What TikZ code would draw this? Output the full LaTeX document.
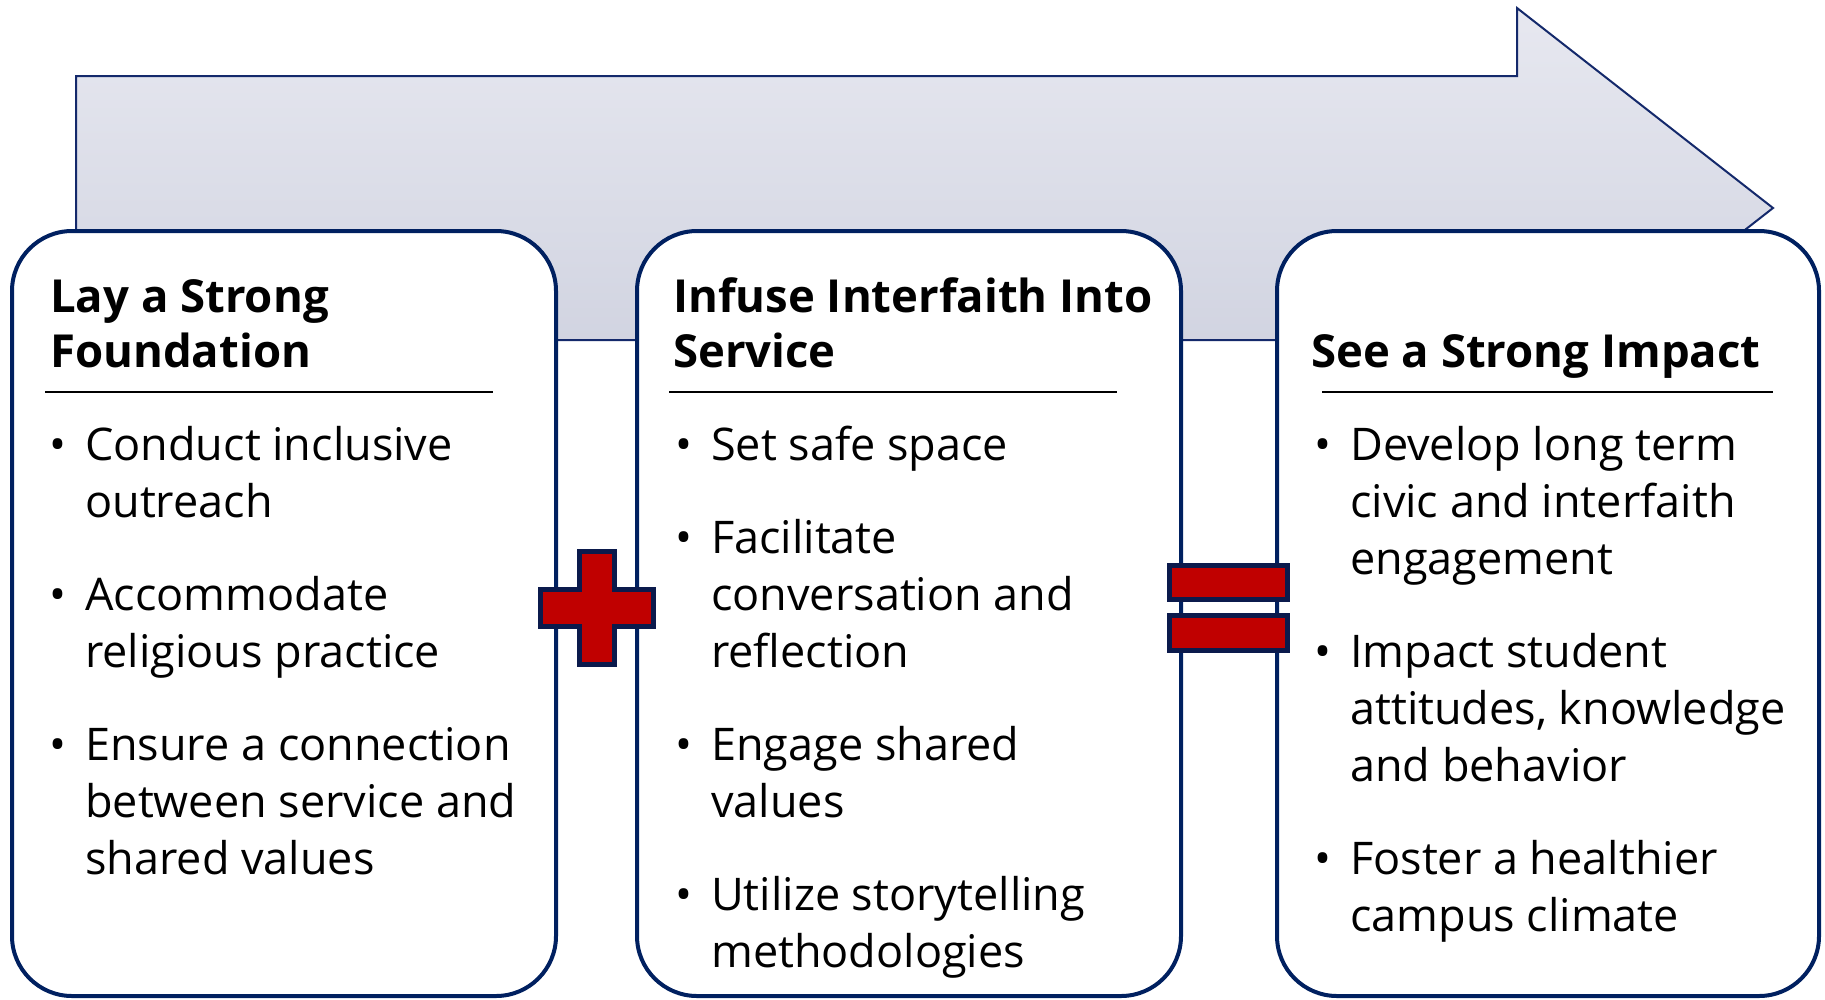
\documentclass[tikz,border=0pt]{standalone}
\usepackage{fontspec}
\setmainfont{Open Sans}
\usepackage{array}

\definecolor{boxblue}{HTML}{002060}
\definecolor{arrowblue}{HTML}{14296B}
\definecolor{arrowtop}{HTML}{E7E8F0}
\definecolor{arrowbot}{HTML}{CDD0DE}
\definecolor{symblue}{HTML}{0B1A4C}
\definecolor{symred}{HTML}{C00000}

\newcommand{\bitem}[1]{\begin{tabular}[t]{@{}p{36pt}@{}>{\raggedright\arraybackslash}p{600pt}@{}}\textbullet & #1\end{tabular}}
\newcommand{\tlines}[1]{\begin{tabular}[t]{@{}l@{}}#1\end{tabular}}

\tikzset{
  boxframe/.style={draw=boxblue, line width=4pt, fill=white, rounded corners=60pt},
  title/.style={anchor=base west, inner sep=0pt, font=\fontsize{45.5}{55}\selectfont\bfseries},
  itemtext/.style={anchor=base west, inner sep=0pt, font=\fontsize{45}{57}\selectfont},
  symbol/.style={draw=symblue, line width=5pt, fill=symred, line join=miter}
}

\begin{document}
\begin{tikzpicture}[x=1pt, y=-1pt]
\useasboundingbox (0,0) rectangle (1825,999);

% big arrow behind the boxes
\draw[arrowblue, line width=2pt, top color=arrowtop, bottom color=arrowbot]
  (76,76) -- (1517,76) -- (1517,8) -- (1773,208) -- (1517,408) -- (1517,340) -- (76,340) -- cycle;

\draw[boxframe] (12,231) rectangle (556,996);
\draw[boxframe] (637,231) rectangle (1181,996);
\draw[boxframe] (1277,231) rectangle (1819,996);

\node[title] (t1) at (50,312) {\tlines{Lay a Strong\\Foundation}};
\node[title] (t2) at (673,312) {\tlines{Infuse Interfaith Into\\Service}};
\node[title] (t3) at (1311,367) {See a Strong Impact};

\draw[line width=2pt] (45,392) -- (493,392);
\draw[line width=2pt] (669,392) -- (1117,392);
\draw[line width=2pt] (1322,392) -- (1773,392);

\node[itemtext] (f1) at (49,460) {\bitem{Conduct inclusive\newline outreach}};
\node[itemtext] (f2) at (49,610) {\bitem{Accommodate\newline religious practice}};
\node[itemtext] (f3) at (49,760) {\bitem{Ensure a connection\newline between service and\newline shared values}};

\node[itemtext] (s1) at (675,460) {\bitem{Set safe space}};
\node[itemtext] (s2) at (675,553) {\bitem{Facilitate\newline conversation and\newline reflection}};
\node[itemtext] (s3) at (675,760) {\bitem{Engage shared\newline values}};
\node[itemtext] (s4) at (675,910) {\bitem{Utilize storytelling\newline methodologies}};

\node[itemtext] (i1) at (1314,460) {\bitem{Develop long term\newline civic and interfaith\newline engagement}};
\node[itemtext] (i2) at (1314,667) {\bitem{Impact student\newline attitudes, knowledge\newline and behavior}};
\node[itemtext] (i3) at (1314,874) {\bitem{Foster a healthier\newline campus climate}};

% plus and equals
\draw[symbol] (579.5,551.5) -- (614.5,551.5) -- (614.5,589.5) -- (653.5,589.5) -- (653.5,626.5)
  -- (614.5,626.5) -- (614.5,664.5) -- (579.5,664.5) -- (579.5,626.5) -- (540.5,626.5)
  -- (540.5,589.5) -- (579.5,589.5) -- cycle;
\draw[symbol] (1169.5,565.5) rectangle (1287.5,599.5);
\draw[symbol] (1169.5,615.5) rectangle (1287.5,650.5);

\end{tikzpicture}
\end{document}
